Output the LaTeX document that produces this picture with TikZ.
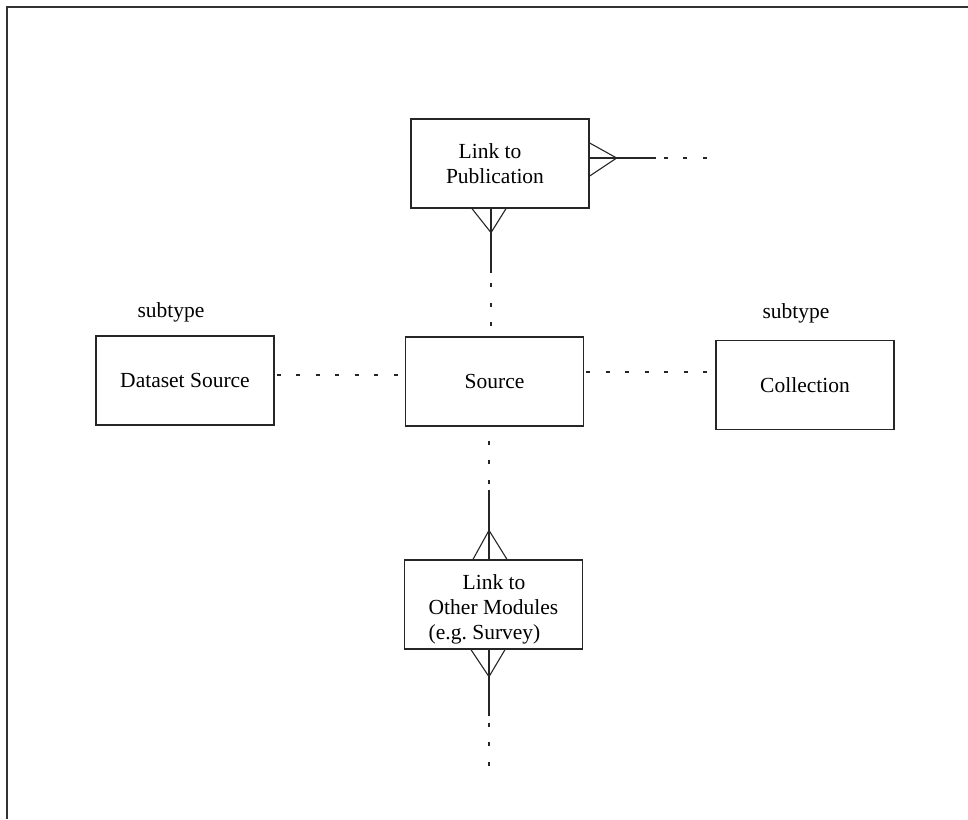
\documentclass[tikz,border=0pt]{standalone}
\usepackage{fontspec}
\setmainfont{Liberation Serif}
\usetikzlibrary{calc}
\begin{document}
\begin{tikzpicture}[x=1pt,y=-1pt,
  entity/.style={draw=black!85,line width=1.3pt,minimum width=178pt,minimum height=89pt,
    inner sep=0pt,font=\fontsize{21.5}{25}\selectfont},
  caption/.style={font=\fontsize{21.5}{25}\selectfont,inner sep=0pt},
  rel/.style={line width=1.1pt,draw=black!85},
  reldash/.style={rel,dash pattern=on 4pt off 15.5pt}]
\useasboundingbox (0,0) rectangle (968,819);
% page frame
\draw[line width=1.5pt,black!80] (968,7) -- (7,7) -- (7,819);

% entities
\node[entity,align=center] (pub) at (500,163.5) {Link to\hspace*{20pt}\\Publication\hspace*{10pt}};
\node[entity] (src) at (494.5,381.5) {Source};
\node[entity] (ds) at (185,380.5) {Dataset Source};
\node[entity] (col) at (805,385) {Collection};
\node[entity,align=left] (oth) at (493.5,604.5)
  {\rule{0pt}{25pt}\hspace*{34pt}Link to\\Other Modules\\(e.g.\ Survey)};
\node[caption] (st1) at (171,312) {subtype};
\node[caption] (st2) at (796,313) {subtype};

% subtype links
\draw[reldash,dash phase=17.5pt] ($(ds.east)+(0,-5.5)$) -- ($(src.west)+(0,-6.5)$);
\draw[reldash,dash phase=17.5pt] ($(src.east)+(0,-9.5)$) -- ($(col.west)+(0,-13)$);

% Source -- Link to Publication (many end at the link)
\coordinate (pubtoe) at ($(pub.south)+(-9,0)$);
\coordinate (pubfork) at ($(pubtoe)+(0,24)$);
\coordinate (pubrun) at ($(pubtoe)+(0,64)$);
\draw[rel] ($(pub.south)+(-28,0)$) -- (pubfork) -- ($(pub.south)+(6,0)$);
\draw[rel] (pubtoe) -- (pubrun);
\draw[reldash,dash phase=9pt] (pubrun) -- ($(src.north)+(-3.5,0)$);

% Link to Publication -- outside
\coordinate (pubtail) at ($(pub.east)+(66,-5.5)$);
\coordinate (pubend) at ($(pub.east)+(118,-5.5)$);
\draw[rel] ($(pub.east)+(0,-20.5)$) -- ($(pub.east)+(27,-5.5)$) -- ($(pub.east)+(0,12.5)$);
\draw[rel] ($(pub.east)+(0,-5.5)$) -- (pubtail);
\draw[reldash,dash phase=11.5pt] (pubtail) -- (pubend);

% Source -- Link to Other Modules
\coordinate (othrun) at ($(oth.north)+(-4.5,-69)$);
\draw[reldash,dash phase=5.5pt] ($(src.south)+(-5.5,0)$) -- (othrun);
\draw[rel] (othrun) -- ($(oth.north)+(-4.5,0)$);
\draw[rel] ($(oth.north)+(-20.5,0)$) -- ($(oth.north)+(-4.5,-29)$) -- ($(oth.north)+(13.5,0)$);

% Link to Other Modules -- outside
\coordinate (othtail) at ($(oth.south)+(-4.5,66)$);
\coordinate (othend) at ($(oth.south)+(-4.5,121)$);
\draw[rel] ($(oth.south)+(-22.5,0)$) -- ($(oth.south)+(-4.5,27)$) -- ($(oth.south)+(11.5,0)$);
\draw[rel] ($(oth.south)+(-4.5,0)$) -- (othtail);
\draw[reldash,dash phase=12.5pt] (othtail) -- (othend);
\end{tikzpicture}
\end{document}
